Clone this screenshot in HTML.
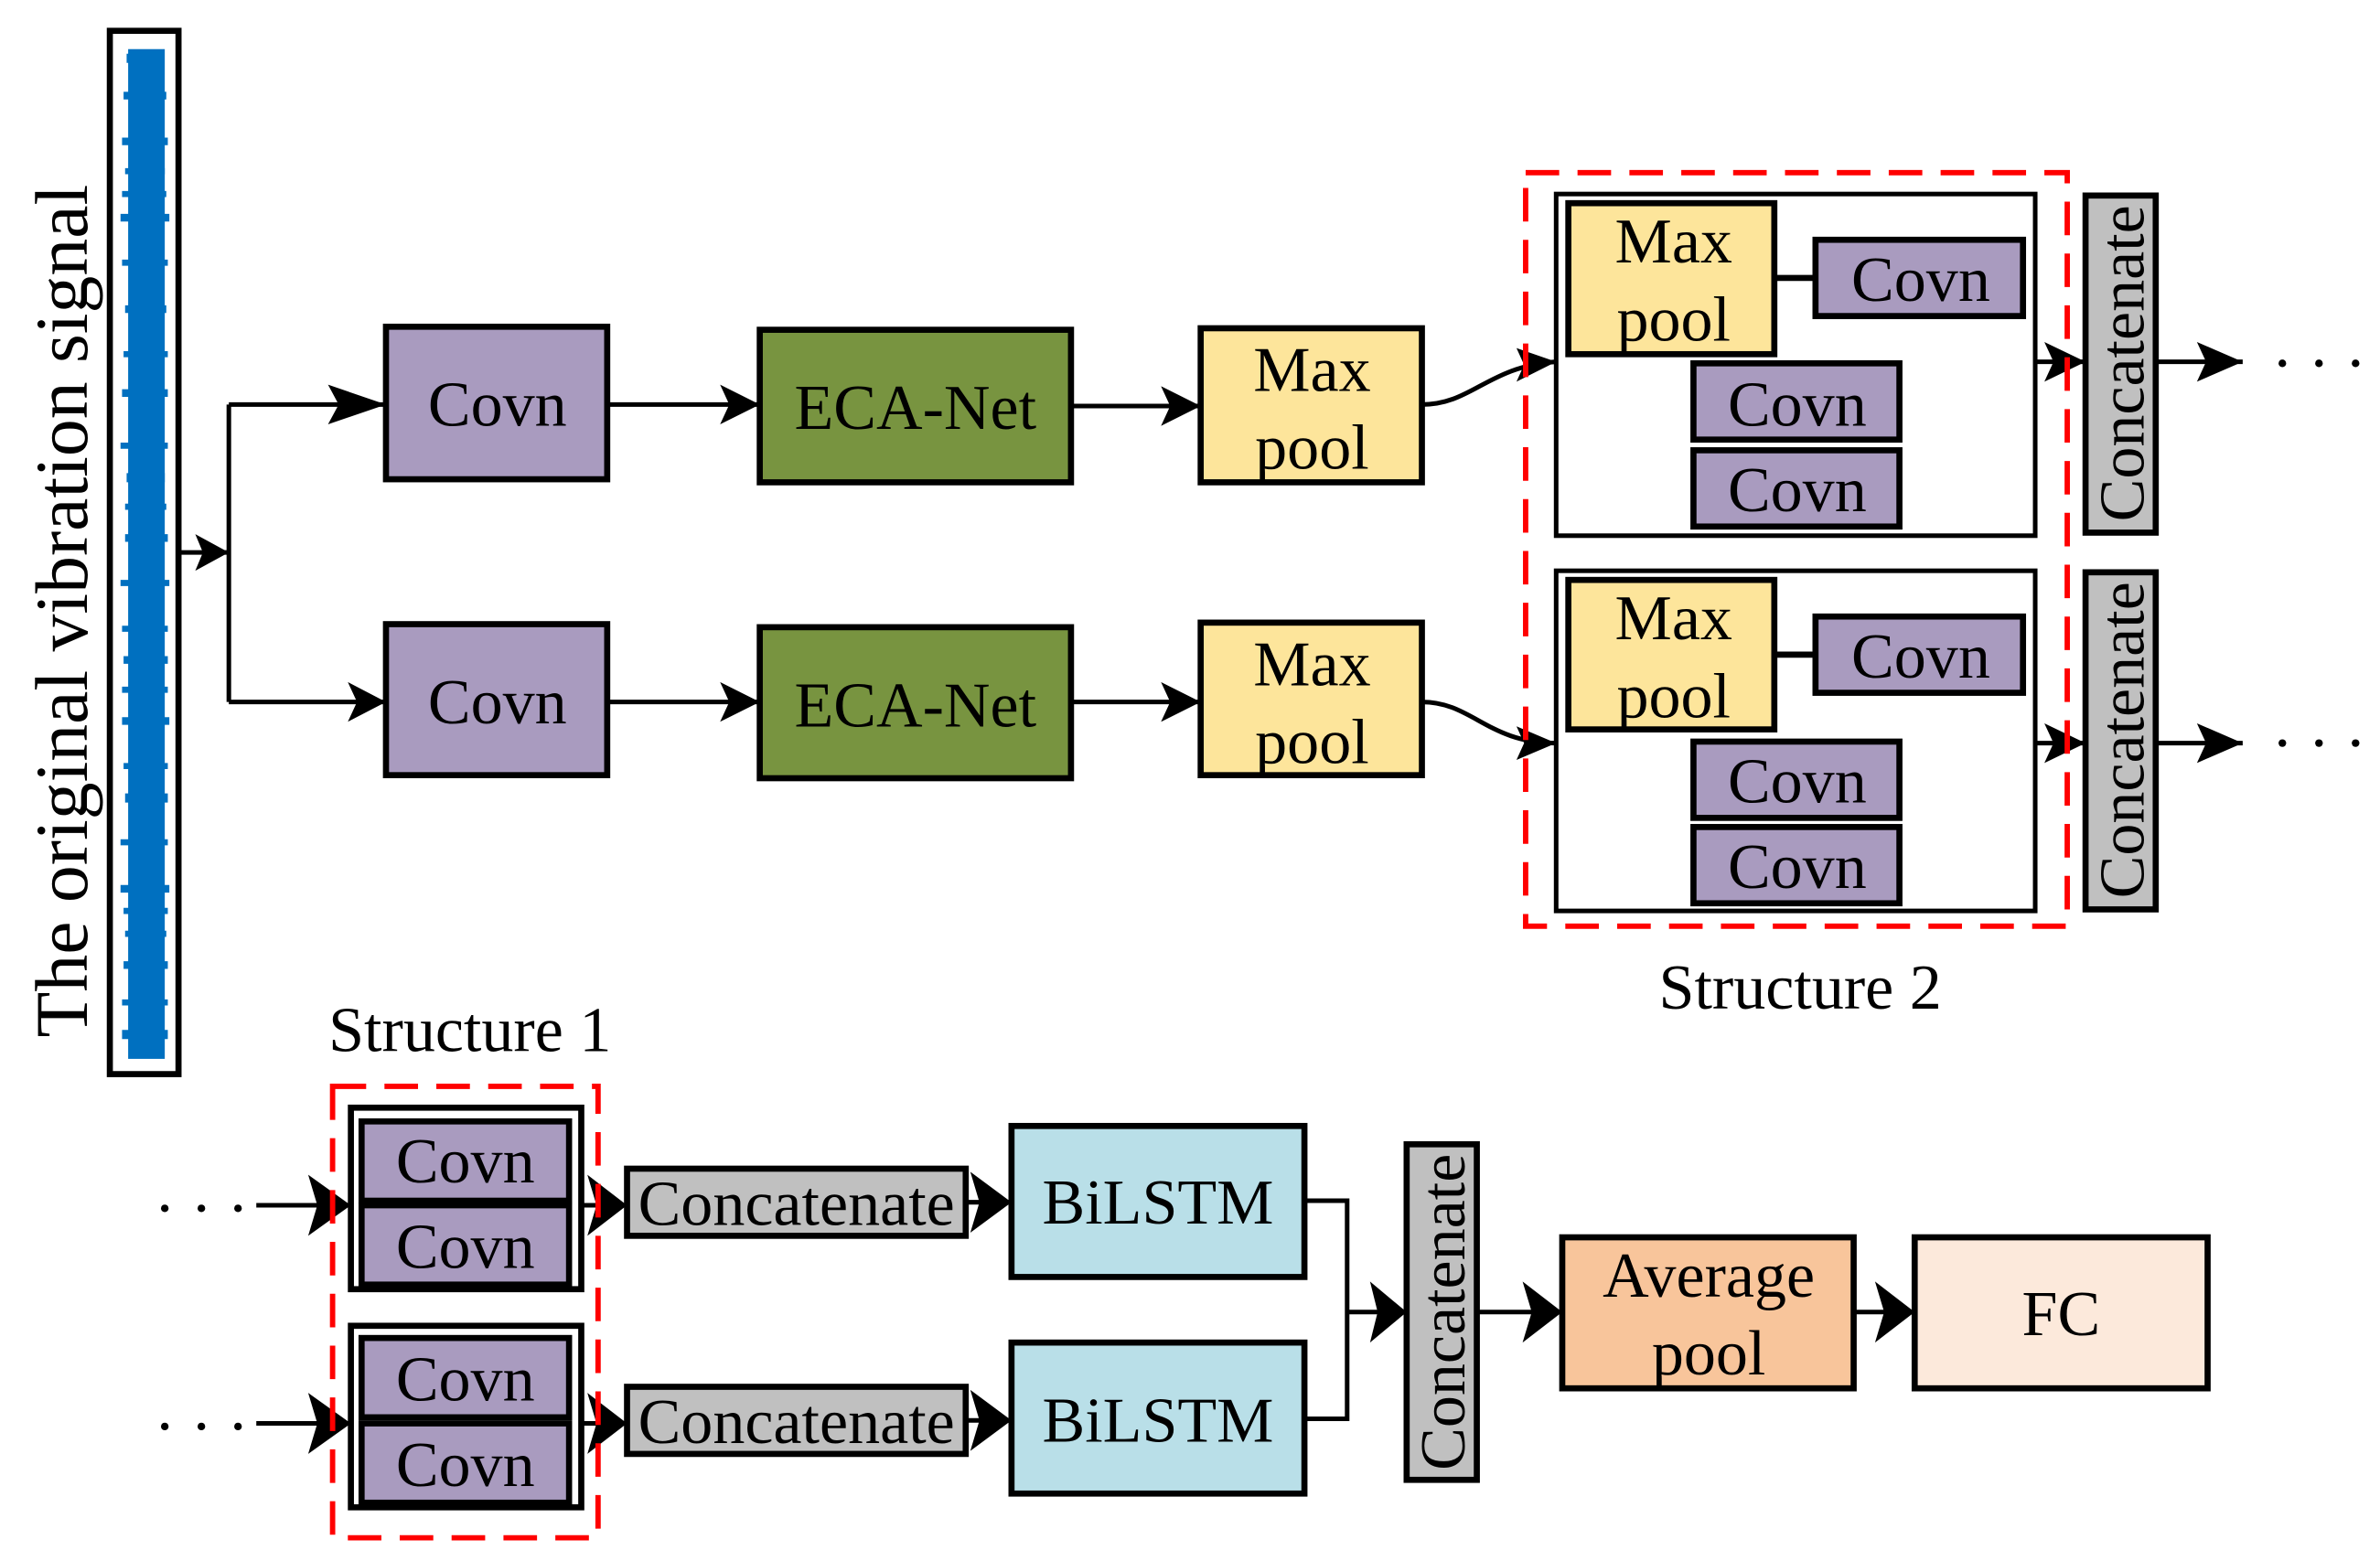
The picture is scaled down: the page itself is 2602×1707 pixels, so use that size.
<!DOCTYPE html>
<html><head><meta charset="utf-8"><style>
html,body{margin:0;padding:0;background:#fff;}
svg{display:block;}
text{font-family:"Liberation Serif",serif;fill:#000;}
</style></head><body>
<svg width="2602" height="1707" viewBox="0 0 1560 1023" xmlns="http://www.w3.org/2000/svg">
<g stroke="#000" stroke-width="3" fill="none">
<rect x="72" y="20" width="45" height="684" fill="#fff" stroke-width="4"/>
</g>
<g fill="#0070c0">
<rect x="84" y="32" width="24" height="662"/>
<path d="M83 35h24v6h-24zM80 90h30v5h-30zM79 140h32v5h-32zM82 200h27v5h-27zM80 255h30v5h-30zM83 310h25v6h-25zM79 380h32v4h-32zM81 430h29v5h-29zM80 470h31v5h-31zM82 520h28v6h-28zM79 580h32v5h-32zM81 630h29v5h-29zM80 675h30v6h-30zM82 110h26v4h-26zM80 170h30v4h-30zM81 230h29v4h-29zM79 290h31v4h-31zM82 350h28v5h-28zM80 410h30v4h-30zM81 500h29v4h-29zM79 550h31v4h-31zM82 610h27v4h-27zM80 655h30v4h-30zM81 60h28v5h-28zM80 125h29v4h-29zM82 330h27v4h-27zM80 450h30v4h-30zM81 595h29v4h-29z"/>
</g>
<text x="0" y="0" font-size="49" transform="translate(57 680) rotate(-90)">The original vibration signal</text>

<g stroke="#000" stroke-width="3" fill="none">
<path d="M117 362H150M150 265V460M150 265H253M150 460H253"/>
<path d="M398 265H498M398 460H498M702 266H787M702 460H787"/>
<path d="M932 265C965 265 975 240 1020 237"/>
<path d="M932 460C965 460 975 487 1020 487"/>
<path d="M1334 237H1367M1334 487H1367M1413 237H1470M1413 487H1470"/>
<path d="M168 790H230M168 933H230M381 790H411M381 933H411M633 788H663M633 931H663"/>
<path d="M855 787H883V930H855M883 860H922M968 860H1024M1215 860H1255"/>
</g>
<g fill="#000">
<polygon points="150,362 128,350 133,362 128,374"/>
<polygon points="253,265 215,252 222,265 215,278"/>
<polygon points="253,460 228,447 234,460 228,473"/>
<polygon points="498,265 472,252 478,265 472,278"/>
<polygon points="498,460 472,447 478,460 472,473"/>
<polygon points="787,266 761,253 767,266 761,279"/>
<polygon points="787,460 761,447 767,460 761,473"/>
<polygon points="1020,237 994,228 999,239 994,250"/>
<polygon points="1020,487 994,476 999,487 994,498"/>
<polygon points="1367,237 1340,224 1346,237 1340,250"/>
<polygon points="1367,487 1340,474 1346,487 1340,500"/>
<polygon points="1470,237 1440,224 1446,237 1440,250"/>
<polygon points="1470,487 1440,474 1446,487 1440,500"/>
<polygon points="230,790 202,770 208,790 202,810"/>
<polygon points="230,933 202,913 208,933 202,953"/>
<polygon points="411,790 385,770 391,790 385,810"/>
<polygon points="411,933 385,913 391,933 385,953"/>
<polygon points="663,788 636,768 642,788 636,808"/>
<polygon points="663,931 636,911 642,931 636,951"/>
<polygon points="922,860 898,840 903,860 898,880"/>
<polygon points="1024,860 998,840 1004,860 998,880"/>
<polygon points="1255,860 1229,840 1235,860 1229,880"/>
<circle cx="1496" cy="238" r="2.5"/><circle cx="1520" cy="238" r="2.5"/><circle cx="1544" cy="238" r="2.5"/>
<circle cx="1496" cy="487" r="2.5"/><circle cx="1520" cy="487" r="2.5"/><circle cx="1544" cy="487" r="2.5"/>
<circle cx="108" cy="792" r="2.5"/><circle cx="132" cy="792" r="2.5"/><circle cx="156" cy="792" r="2.5"/>
<circle cx="108" cy="935" r="2.5"/><circle cx="132" cy="935" r="2.5"/><circle cx="156" cy="935" r="2.5"/>
</g>

<g stroke="#000" stroke-width="4">
<rect x="253" y="214" width="145" height="100" fill="#a99bbf"/>
<rect x="253" y="409" width="145" height="99" fill="#a99bbf"/>
<rect x="498" y="216" width="204" height="100" fill="#789440"/>
<rect x="498" y="411" width="204" height="99" fill="#789440"/>
<rect x="787" y="215" width="145" height="101" fill="#fde59b"/>
<rect x="787" y="408" width="145" height="100" fill="#fde59b"/>
<rect x="1020" y="127" width="314" height="224" fill="#fff" stroke-width="3"/>
<rect x="1020" y="374" width="314" height="223" fill="#fff" stroke-width="3"/>
<rect x="1028" y="133" width="135" height="99" fill="#fde59b"/>
<rect x="1190" y="157" width="136" height="50" fill="#a99bbf"/>
<rect x="1110" y="238" width="135" height="50" fill="#a99bbf"/>
<rect x="1110" y="295" width="135" height="50" fill="#a99bbf"/>
<rect x="1028" y="380" width="135" height="98" fill="#fde59b"/>
<rect x="1190" y="404" width="136" height="50" fill="#a99bbf"/>
<rect x="1110" y="486" width="135" height="50" fill="#a99bbf"/>
<rect x="1110" y="542" width="135" height="50" fill="#a99bbf"/>
<path d="M1163 182H1190M1163 429H1190" fill="none"/>
<rect x="1367" y="128" width="46" height="221" fill="#c0c0c0"/>
<rect x="1367" y="375" width="46" height="221" fill="#c0c0c0"/>
<rect x="230" y="726" width="151" height="119" fill="#fff"/>
<rect x="230" y="869" width="151" height="119" fill="#fff"/>
<rect x="237" y="735" width="136" height="52" fill="#a99bbf"/>
<rect x="237" y="790" width="136" height="52" fill="#a99bbf"/>
<rect x="237" y="877" width="136" height="52" fill="#a99bbf"/>
<rect x="237" y="933" width="136" height="52" fill="#a99bbf"/>
<rect x="411" y="766" width="222" height="44" fill="#c0c0c0"/>
<rect x="411" y="909" width="222" height="44" fill="#c0c0c0"/>
<rect x="663" y="738" width="192" height="99" fill="#b9dfe8"/>
<rect x="663" y="880" width="192" height="99" fill="#b9dfe8"/>
<rect x="922" y="750" width="46" height="220" fill="#c0c0c0"/>
<rect x="1024" y="811" width="191" height="99" fill="#f8c59b"/>
<rect x="1255" y="811" width="192" height="99" fill="#fce9db"/>
</g>
<g fill="none" stroke="#f00" stroke-width="3.5" stroke-dasharray="22,12">
<rect x="1000" y="113" width="355" height="494"/>
<rect x="218" y="712" width="174" height="296"/>
</g>

<g font-size="42" text-anchor="middle">
<text x="326" y="279">Covn</text>
<text x="326" y="474">Covn</text>
<text x="600" y="281">ECA-Net</text>
<text x="600" y="476">ECA-Net</text>
<text x="860" y="256">Max</text><text x="860" y="307">pool</text>
<text x="860" y="449">Max</text><text x="860" y="500">pool</text>
<text x="1097" y="172">Max</text><text x="1097" y="223">pool</text>
<text x="1097" y="419">Max</text><text x="1097" y="470">pool</text>
<text x="1259" y="197">Covn</text>
<text x="1178" y="279">Covn</text>
<text x="1178" y="335">Covn</text>
<text x="1259" y="444">Covn</text>
<text x="1178" y="526">Covn</text>
<text x="1178" y="582">Covn</text>
<text x="1180" y="661">Structure 2</text>
<text x="308" y="689">Structure 1</text>
<text x="305" y="775">Covn</text>
<text x="305" y="831">Covn</text>
<text x="305" y="918">Covn</text>
<text x="305" y="974">Covn</text>
<text x="522" y="803">Concatenate</text>
<text x="522" y="946">Concatenate</text>
<text x="759" y="802">BiLSTM</text>
<text x="759" y="945">BiLSTM</text>
<text x="1120" y="850">Average</text><text x="1120" y="901">pool</text>
<text x="1351" y="875">FC</text>
<text transform="translate(1405 238) rotate(-90)">Concatenate</text>
<text transform="translate(1405 485) rotate(-90)">Concatenate</text>
<text transform="translate(960 860) rotate(-90)">Concatenate</text>
</g>
</svg>
</body></html>
